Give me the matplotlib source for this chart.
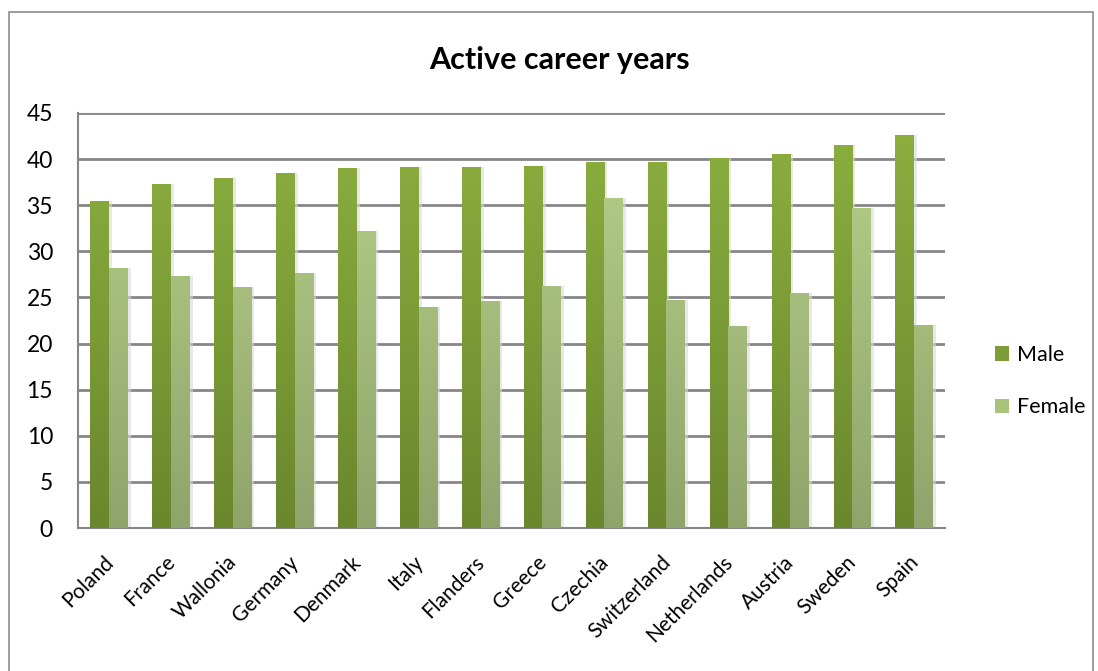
import numpy as np
import matplotlib
matplotlib.use('Agg')
import matplotlib.pyplot as plt
from matplotlib.colors import LinearSegmentedColormap
from matplotlib.patches import Rectangle, Patch
from matplotlib.transforms import ScaledTranslation

countries = ['Poland', 'France', 'Wallonia', 'Germany', 'Denmark', 'Italy', 'Flanders',
             'Greece', 'Czechia', 'Switzerland', 'Netherlands', 'Austria', 'Sweden', 'Spain']
male = [35.5, 37.3, 37.9, 38.5, 39.0, 39.1, 39.1, 39.2, 39.7, 39.7, 40.1, 40.6, 41.5, 42.6]
female = [28.2, 27.3, 26.1, 27.6, 32.2, 24.0, 24.6, 26.2, 35.8, 24.7, 21.9, 25.5, 34.7, 22.0]

plt.rcParams['font.family'] = ['Lato', 'DejaVu Sans']

fig = plt.figure(figsize=(10.98, 6.71), dpi=100)
ax = fig.add_axes([78 / 1098, 0.2131, (945 - 78) / 1098, 0.6185])

# outer chart border
fig.patches.append(Rectangle((9 / 1098, -0.01), 1084 / 1098, (671 - 12) / 671 + 0.01,
                             transform=fig.transFigure, fill=False, ec='#8c8c8c', lw=1.2))

x = np.arange(len(countries))
w = 0.3
male_cmap = LinearSegmentedColormap.from_list('m', ['#6a872d', '#8db040'])
female_cmap = LinearSegmentedColormap.from_list('f', ['#8fa46b', '#b8d28b'])


def gradient_bars(xs, vals, cmap, label):
    bars = ax.bar(xs, vals, width=w, color='none', label=label, zorder=3)
    grad = np.linspace(0, 1, 256).reshape(-1, 1)
    for b in bars:
        x0, y0 = b.get_x(), b.get_y()
        bw, bh = b.get_width(), b.get_height()
        im = ax.imshow(grad, cmap=cmap, origin='lower', aspect='auto',
                       extent=[x0, x0 + bw, y0, y0 + 45], zorder=3)
        im.set_clip_path(b)
        # soft shadow to the right
        ax.add_patch(Rectangle((x0 + bw, y0), 0.05, bh, color='#d9d9d9', alpha=0.6,
                               lw=0, zorder=2))
    return bars


gradient_bars(x - w / 2, male, male_cmap, 'Male')
gradient_bars(x + w / 2, female, female_cmap, 'Female')

ax.set_xlim(-0.5, len(countries) - 0.5)
ax.set_ylim(0, 45)
ax.set_yticks(range(0, 46, 5))
ax.yaxis.grid(True, color='#868686', lw=2, zorder=1)
ax.set_axisbelow(True)
ax.set_xticks(x)
ax.set_xticklabels([])

# category labels, rotated, placed under each category
lbl_tr = ax.get_xaxis_transform() + ScaledTranslation(-0.06, -0.24, fig.dpi_scale_trans)
for xi, name in zip(x, countries):
    ax.text(xi, 0, name, transform=lbl_tr, rotation=45, ha='right', va='top',
            rotation_mode='anchor', fontsize=15)

ax.tick_params(axis='y', labelsize=16.5, length=0, pad=18)
ax.tick_params(axis='x', length=0)
for s in ['top', 'right']:
    ax.spines[s].set_visible(False)
ax.spines['left'].set_color('#868686')
ax.spines['bottom'].set_color('#868686')
ax.spines['left'].set_linewidth(1.5)
ax.spines['bottom'].set_linewidth(1.5)

fig.text(0.51, 0.91, 'Active career years', ha='center', va='center',
         fontsize=22, fontweight='bold')

handles = [Patch(facecolor='#7b9c36', edgecolor='none'),
           Patch(facecolor='#a8c47c', edgecolor='none')]
fig.legend(handles, ['Male', 'Female'], loc='center left', bbox_to_anchor=(0.889, 0.432),
           frameon=False, fontsize=15.5, handlelength=0.65, handleheight=0.65,
           labelspacing=1.5, handletextpad=0.35)

fig.savefig('out.png', dpi=100)
